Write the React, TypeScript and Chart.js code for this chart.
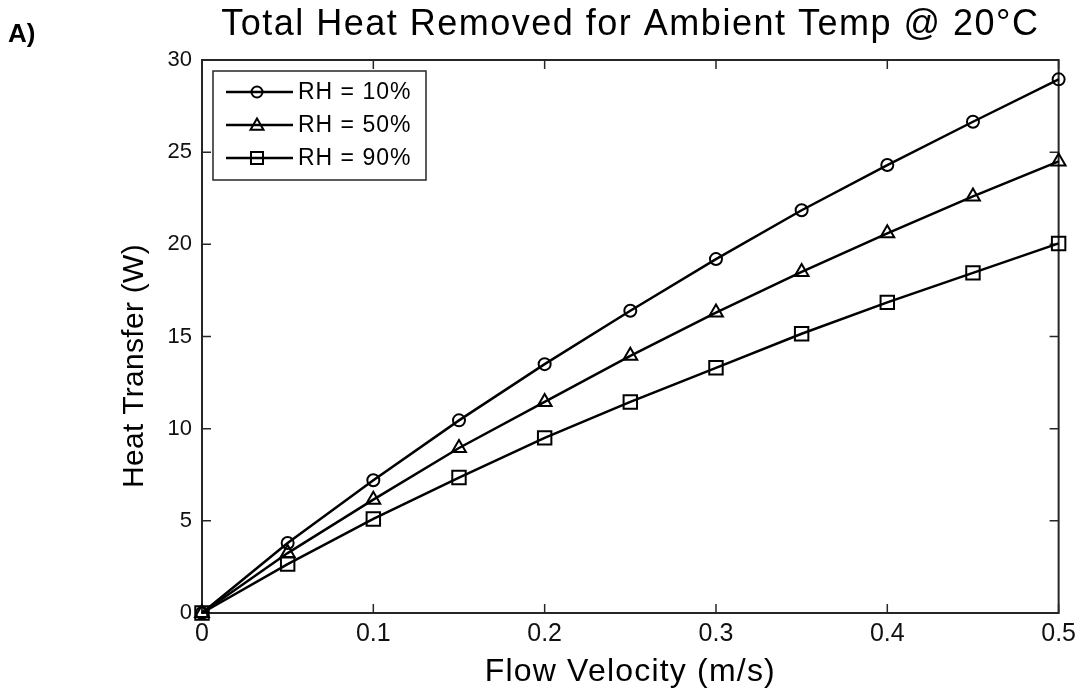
import React, { useEffect, useRef } from 'react';
import { Chart, registerables } from 'chart.js';

Chart.register(...registerables);

// ---- data ----
const velocities = [0, 0.05, 0.1, 0.15, 0.2, 0.25, 0.3, 0.35, 0.4, 0.45, 0.5];
const rh10 = [0, 3.8, 7.2, 10.45, 13.5, 16.4, 19.2, 21.85, 24.3, 26.65, 28.95];
const rh50 = [0, 3.25, 6.15, 8.95, 11.45, 13.95, 16.3, 18.5, 20.6, 22.6, 24.5];
const rh90 = [0, 2.65, 5.1, 7.35, 9.5, 11.45, 13.3, 15.15, 16.85, 18.45, 20.05];
const seriesLabels = ['RH = 10%', 'RH = 50%', 'RH = 90%'];
const seriesMarkers = ['circle', 'triangle', 'rect'];
const xTickValues = [0, 0.1, 0.2, 0.3, 0.4, 0.5];
const yTickValues = [0, 5, 10, 15, 20, 25, 30];
const titleText = 'Total Heat Removed for Ambient Temp @ 20°C';
const xTitleText = 'Flow Velocity (m/s)';
const yTitleText = 'Heat Transfer (W)';
const panelLabel = 'A)';

const FONT = '"Liberation Sans", Arial, sans-serif';
const AXIS_COLOR = '#262626';

function markerRadius(style: string) {
  if (style === 'circle') return 6;
  if (style === 'triangle') return 8;
  return 9.5;
}

function drawMarker(ctx: CanvasRenderingContext2D, style: string, x: number, y: number, r: number) {
  ctx.beginPath();
  if (style === 'circle') {
    ctx.arc(x, y, r, 0, Math.PI * 2);
  } else if (style === 'triangle') {
    ctx.moveTo(x, y - r);
    ctx.lineTo(x + r * Math.sin((2 * Math.PI) / 3), y - r * Math.cos((2 * Math.PI) / 3));
    ctx.lineTo(x - r * Math.sin((2 * Math.PI) / 3), y - r * Math.cos((2 * Math.PI) / 3));
    ctx.closePath();
  } else {
    const s = r * Math.SQRT1_2;
    ctx.rect(x - s, y - s, 2 * s, 2 * s);
  }
  ctx.stroke();
}

const matlabPlugin = {
  id: 'matlabDecor',
  beforeDatasetsDraw(chart: any) {
    const { ctx, chartArea } = chart;
    const { left, right, top, bottom } = chartArea;
    const xs = chart.scales.x;
    const ys = chart.scales.y;
    const tick = 9;
    ctx.save();
    ctx.strokeStyle = AXIS_COLOR;
    ctx.lineWidth = 2;
    ctx.strokeRect(left, top, right - left, bottom - top);
    ctx.lineWidth = 1.5;
    ctx.beginPath();
    xs.ticks.forEach((t: any) => {
      const px = xs.getPixelForValue(t.value);
      ctx.moveTo(px, bottom);
      ctx.lineTo(px, bottom - tick);
      ctx.moveTo(px, top);
      ctx.lineTo(px, top + tick);
    });
    ys.ticks.forEach((t: any) => {
      const py = ys.getPixelForValue(t.value);
      ctx.moveTo(left, py);
      ctx.lineTo(left + tick, py);
      ctx.moveTo(right, py);
      ctx.lineTo(right - tick, py);
    });
    ctx.stroke();
    ctx.restore();
  },
  afterDraw(chart: any) {
    const { ctx, chartArea } = chart;
    const cx = (chartArea.left + chartArea.right) / 2;
    ctx.save();
    ctx.fillStyle = '#000';

    // panel label
    ctx.font = `bold 26px ${FONT}`;
    ctx.textAlign = 'left';
    ctx.textBaseline = 'alphabetic';
    (ctx as any).letterSpacing = '0px';
    ctx.fillText(panelLabel, 8, 42);

    // title
    ctx.font = `36px ${FONT}`;
    (ctx as any).letterSpacing = '1.5px';
    ctx.textAlign = 'center';
    ctx.fillText(titleText, cx, 35);

    // x axis title
    ctx.font = `32px ${FONT}`;
    (ctx as any).letterSpacing = '1.2px';
    ctx.fillText(xTitleText, cx, 681);

    // y axis title
    ctx.save();
    ctx.translate(143, 488);
    ctx.rotate(-Math.PI / 2);
    ctx.font = `30px ${FONT}`;
    (ctx as any).letterSpacing = '0.3px';
    ctx.textAlign = 'left';
    ctx.fillText(yTitleText, 0, 0);
    ctx.restore();

    // legend
    const bx = 213, by = 71, bw = 213, bh = 109;
    ctx.fillStyle = '#fff';
    ctx.fillRect(bx, by, bw, bh);
    ctx.strokeStyle = AXIS_COLOR;
    ctx.lineWidth = 1.5;
    ctx.strokeRect(bx, by, bw, bh);
    const rows = [92, 125, 158];
    chart.data.datasets.forEach((ds: any, i: number) => {
      const y = rows[i];
      ctx.strokeStyle = '#000';
      ctx.lineWidth = 2.5;
      ctx.beginPath();
      ctx.moveTo(226, y);
      ctx.lineTo(293, y);
      ctx.stroke();
      ctx.lineWidth = 2;
      const st = seriesMarkers[i];
      drawMarker(ctx, st, 257, st === 'triangle' ? y + 1 : y, st === 'rect' ? 8.5 : st === 'triangle' ? 7.5 : 5.5);
      ctx.fillStyle = '#000';
      ctx.font = `23px ${FONT}`;
      (ctx as any).letterSpacing = '1px';
      ctx.textAlign = 'left';
      ctx.textBaseline = 'middle';
      ctx.fillText(ds.label, 298, y + 1);
    });
    ctx.restore();
  },
};

export default function App() {
  const canvasRef = useRef<HTMLCanvasElement | null>(null);

  useEffect(() => {
    document.body.style.margin = '0';
    const canvas = canvasRef.current;
    if (!canvas) return;
    const series = [rh10, rh50, rh90];
    const chart = new Chart(canvas, {
      type: 'line',
      data: {
        datasets: series.map((vals, i) => ({
          label: seriesLabels[i],
          data: velocities.map((v, j) => ({ x: v, y: vals[j] })),
          borderColor: '#000',
          borderWidth: 2.5,
          pointStyle: seriesMarkers[i] as any,
          pointRadius: markerRadius(seriesMarkers[i]),
          pointBorderWidth: 2,
          pointBorderColor: '#000',
          pointBackgroundColor: 'rgba(0,0,0,0)',
          tension: 0,
          clip: false as any,
        })),
      },
      options: {
        animation: false,
        responsive: false,
        maintainAspectRatio: false,
        layout: { padding: { top: 60, right: 21, left: 0, bottom: 0 } },
        plugins: {
          legend: { display: false },
          title: { display: false },
          tooltip: { enabled: false },
        },
        scales: {
          x: {
            type: 'linear',
            min: 0,
            max: 0.5,
            grid: { display: false, drawTicks: false },
            border: { display: false },
            afterBuildTicks: (scale: any) => {
              scale.ticks = xTickValues.map((v) => ({ value: v }));
            },
            afterFit: (scale: any) => {
              scale.height = 80;
            },
            ticks: {
              autoSkip: false,
              maxRotation: 0,
              padding: 6,
              color: '#111',
              font: { family: FONT, size: 25 },
              callback: (v: any) => String(v),
            },
          },
          y: {
            type: 'linear',
            min: 0,
            max: 30,
            grid: { display: false, drawTicks: false },
            border: { display: false },
            afterBuildTicks: (scale: any) => {
              scale.ticks = yTickValues.map((v) => ({ value: v }));
            },
            afterFit: (scale: any) => {
              scale.width = 202;
            },
            ticks: {
              autoSkip: false,
              padding: 10,
              color: '#111',
              font: { family: FONT, size: 22 },
              callback: (v: any) => String(v),
            },
          },
        },
      },
      plugins: [matlabPlugin],
    });
    return () => chart.destroy();
  }, []);

  return (
    <div style={{ width: 1082, height: 693 }}>
      <canvas ref={canvasRef} width={1082} height={693} style={{ display: 'block' }} />
    </div>
  );
}
